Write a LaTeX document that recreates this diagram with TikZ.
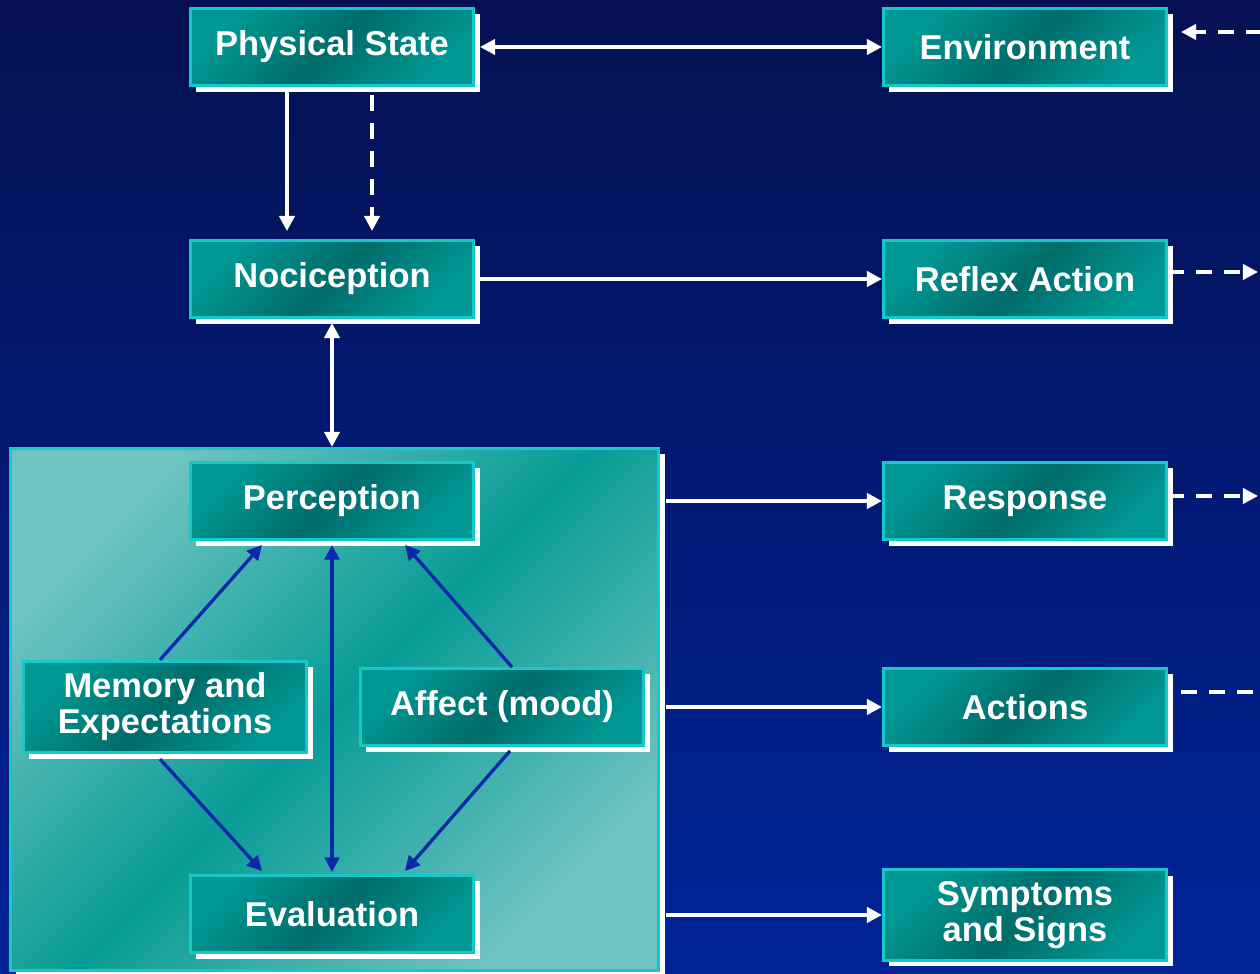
\documentclass[tikz,border=0pt]{standalone}
\usepackage{fontspec}
\setmainfont{Liberation Sans}
\usetikzlibrary{arrows.meta,shadows}
\definecolor{navytop}{RGB}{4,16,82}
\definecolor{navybot}{RGB}{0,36,152}
\definecolor{tealdark}{RGB}{0,108,106}
\definecolor{teallight}{RGB}{0,152,148}
\definecolor{tealrim}{RGB}{22,200,200}
\definecolor{panellight}{RGB}{112,196,194}
\definecolor{paneldark}{RGB}{8,156,150}
\definecolor{linkblue}{RGB}{12,40,170}
\tikzset{
  stage/.style={draw=tealrim,line width=0.8pt,top color=teallight,bottom color=teallight,
    middle color=tealdark,shading angle=45,minimum width=2.83cm,minimum height=0.77cm,
    text=white,align=center,font=\bfseries\fontsize{9.8}{10.2}\selectfont,
    drop shadow={fill=white,opacity=1,shadow xshift=0.06cm,shadow yshift=-0.06cm}},
  twoline/.style={stage,minimum height=0.88cm},
  flow/.style={white,line width=1.05pt,>={Triangle[length=4.3pt,width=4.3pt]}},
  dashflow/.style={flow,dash pattern=on 0.16cm off 0.12cm},
  link/.style={linkblue,line width=0.95pt,>={Triangle[length=4.2pt,width=4.2pt]}}
}
\begin{document}
\begin{tikzpicture}[x=0.01cm,y=-0.01cm]
  \useasboundingbox (0,0) rectangle (1260,974);
  \fill[top color=navytop,bottom color=navybot] (0,0) rectangle (1260,974);
  \node[draw=tealrim,line width=0.8pt,top color=panellight,bottom color=panellight,
    middle color=paneldark,shading angle=45,minimum width=6.48cm,minimum height=5.22cm,
    drop shadow={fill=white,opacity=1,shadow xshift=0.06cm,shadow yshift=-0.06cm}]
    (panel) at (334.5,709.5) {};
  \node[stage] (phys) at (332,47) {Physical State};
  \node[stage] (env) at (1025,47) {Environment};
  \node[stage] (noci) at (332,279) {Nociception};
  \node[stage] (reflex) at (1025,279) {Reflex Action};
  \node[stage] (percep) at (332,501) {Perception};
  \node[stage] (resp) at (1025,501) {Response};
  \node[twoline] (memory) at (165,707) {Memory and\\Expectations};
  \node[stage] (affect) at (502,707) {Affect (mood)};
  \node[stage] (actions) at (1025,707) {Actions};
  \node[stage] (eval) at (332,914) {Evaluation};
  \node[twoline] (symptoms) at (1025,915) {Symptoms\\and Signs};
  \coordinate (envfar) at (1262,32);
  \coordinate (reflexfar) at (1258,272);
  \coordinate (respfar) at (1258,496);
  \coordinate (actionsfar) at (1262,692);
  \draw[flow,<->] ([xshift=0.05cm]phys.east) -- (env.west);
  \draw[flow,->] ([xshift=-0.45cm]phys.south) -- ([xshift=-0.45cm,yshift=0.08cm]noci.north);
  \draw[dashflow,->] ([xshift=0.40cm,yshift=-0.08cm]phys.south) -- ([xshift=0.40cm,yshift=0.08cm]noci.north);
  \draw[flow,->] ([xshift=0.05cm]noci.east) -- (reflex.west);
  \draw[flow,<->] ([yshift=-0.04cm]noci.south) -- (noci.south |- panel.north);
  \draw[flow,->] ([xshift=0.06cm]panel.east |- resp) -- (resp.west);
  \draw[flow,->] ([xshift=0.06cm]panel.east |- actions) -- (actions.west);
  \draw[flow,->] ([xshift=0.06cm]panel.east |- symptoms) -- (symptoms.west);
  \draw[dashflow,->] (envfar) -- ([xshift=0.13cm]env.east |- envfar);
  \draw[dashflow,->] (reflex.east |- reflexfar) -- (reflexfar);
  \draw[dashflow,->] (resp.east |- respfar) -- (respfar);
  \draw[dashflow] ([xshift=0.13cm]actions.east |- actionsfar) -- (actionsfar);
  \draw[link,->] ([xshift=-0.05cm]memory.north) -- ([xshift=-0.70cm,yshift=-0.04cm]percep.south);
  \draw[link,->] ([xshift=0.10cm]affect.north) -- ([xshift=0.73cm,yshift=-0.04cm]percep.south);
  \draw[link,<->] ([yshift=-0.04cm]percep.south) -- ([yshift=0.02cm]eval.north);
  \draw[link,->] ([xshift=-0.05cm,yshift=-0.05cm]memory.south) -- ([xshift=-0.70cm,yshift=0.03cm]eval.north);
  \draw[link,->] ([xshift=0.08cm,yshift=-0.04cm]affect.south) -- ([xshift=0.73cm,yshift=0.03cm]eval.north);
\end{tikzpicture}
\end{document}
